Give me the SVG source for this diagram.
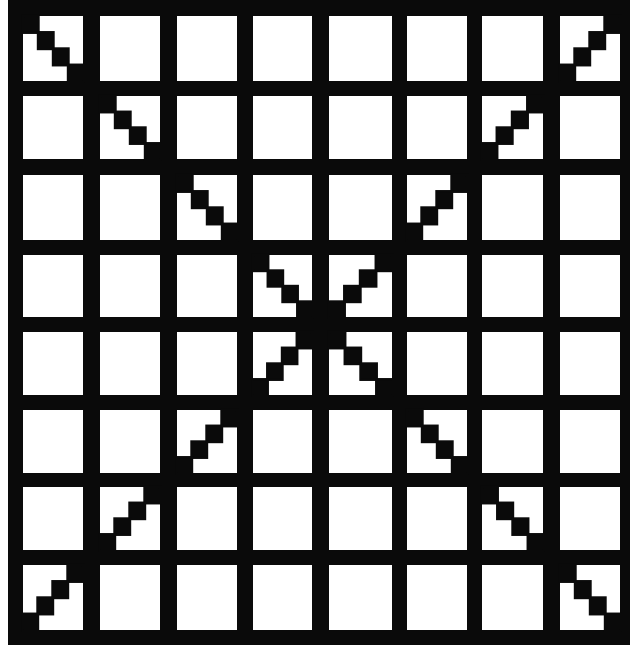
<svg xmlns="http://www.w3.org/2000/svg" width="630" height="647" viewBox="0 0 630 647">
<style>
.bg{fill:#ffffff}
.board{fill:#0a0a0a}
.cell{fill:#ffffff}
.sq{fill:#0a0a0a;stroke:#0a0a0a;stroke-width:2.4}
</style>
<rect class="bg" x="0" y="0" width="630" height="647"/>
<g id="board">
<rect class="board" x="8" y="0" width="622" height="645"/>
</g>
<g id="cells">
<!-- row 0 -->
<rect class="cell" x="23" y="16" width="60" height="65"/>
<rect class="cell" x="100" y="16" width="60" height="65"/>
<rect class="cell" x="177" y="16" width="60" height="65"/>
<rect class="cell" x="253" y="16" width="59" height="65"/>
<rect class="cell" x="329" y="16" width="63" height="65"/>
<rect class="cell" x="407" y="16" width="60" height="65"/>
<rect class="cell" x="482" y="16" width="61" height="65"/>
<rect class="cell" x="560" y="16" width="60" height="65"/>
<!-- row 1 -->
<rect class="cell" x="23" y="96" width="60" height="63"/>
<rect class="cell" x="100" y="96" width="60" height="63"/>
<rect class="cell" x="177" y="96" width="60" height="63"/>
<rect class="cell" x="253" y="96" width="59" height="63"/>
<rect class="cell" x="329" y="96" width="63" height="63"/>
<rect class="cell" x="407" y="96" width="60" height="63"/>
<rect class="cell" x="482" y="96" width="61" height="63"/>
<rect class="cell" x="560" y="96" width="60" height="63"/>
<!-- row 2 -->
<rect class="cell" x="23" y="175" width="60" height="65"/>
<rect class="cell" x="100" y="175" width="60" height="65"/>
<rect class="cell" x="177" y="175" width="60" height="65"/>
<rect class="cell" x="253" y="175" width="59" height="65"/>
<rect class="cell" x="329" y="175" width="63" height="65"/>
<rect class="cell" x="407" y="175" width="60" height="65"/>
<rect class="cell" x="482" y="175" width="61" height="65"/>
<rect class="cell" x="560" y="175" width="60" height="65"/>
<!-- row 3 -->
<rect class="cell" x="23" y="255" width="60" height="62"/>
<rect class="cell" x="100" y="255" width="60" height="62"/>
<rect class="cell" x="177" y="255" width="60" height="62"/>
<rect class="cell" x="253" y="255" width="59" height="62"/>
<rect class="cell" x="329" y="255" width="63" height="62"/>
<rect class="cell" x="407" y="255" width="60" height="62"/>
<rect class="cell" x="482" y="255" width="61" height="62"/>
<rect class="cell" x="560" y="255" width="60" height="62"/>
<!-- row 4 -->
<rect class="cell" x="23" y="332" width="60" height="63"/>
<rect class="cell" x="100" y="332" width="60" height="63"/>
<rect class="cell" x="177" y="332" width="60" height="63"/>
<rect class="cell" x="253" y="332" width="59" height="63"/>
<rect class="cell" x="329" y="332" width="63" height="63"/>
<rect class="cell" x="407" y="332" width="60" height="63"/>
<rect class="cell" x="482" y="332" width="61" height="63"/>
<rect class="cell" x="560" y="332" width="60" height="63"/>
<!-- row 5 -->
<rect class="cell" x="23" y="410" width="60" height="63"/>
<rect class="cell" x="100" y="410" width="60" height="63"/>
<rect class="cell" x="177" y="410" width="60" height="63"/>
<rect class="cell" x="253" y="410" width="59" height="63"/>
<rect class="cell" x="329" y="410" width="63" height="63"/>
<rect class="cell" x="407" y="410" width="60" height="63"/>
<rect class="cell" x="482" y="410" width="61" height="63"/>
<rect class="cell" x="560" y="410" width="60" height="63"/>
<!-- row 6 -->
<rect class="cell" x="23" y="487" width="60" height="63"/>
<rect class="cell" x="100" y="487" width="60" height="63"/>
<rect class="cell" x="177" y="487" width="60" height="63"/>
<rect class="cell" x="253" y="487" width="59" height="63"/>
<rect class="cell" x="329" y="487" width="63" height="63"/>
<rect class="cell" x="407" y="487" width="60" height="63"/>
<rect class="cell" x="482" y="487" width="61" height="63"/>
<rect class="cell" x="560" y="487" width="60" height="63"/>
<!-- row 7 -->
<rect class="cell" x="23" y="565" width="60" height="65"/>
<rect class="cell" x="100" y="565" width="60" height="65"/>
<rect class="cell" x="177" y="565" width="60" height="65"/>
<rect class="cell" x="253" y="565" width="59" height="65"/>
<rect class="cell" x="329" y="565" width="63" height="65"/>
<rect class="cell" x="407" y="565" width="60" height="65"/>
<rect class="cell" x="482" y="565" width="61" height="65"/>
<rect class="cell" x="560" y="565" width="60" height="65"/>
</g>
<g id="diagonal-main">
<rect class="sq" x="23" y="16" width="15.5" height="16.75"/>
<rect class="sq" x="38" y="32.25" width="15.5" height="16.75"/>
<rect class="sq" x="53" y="48.5" width="15.5" height="16.75"/>
<rect class="sq" x="68" y="64.75" width="15.5" height="16.75"/>

<rect class="sq" x="100" y="96" width="15.5" height="16.25"/>
<rect class="sq" x="115" y="111.75" width="15.5" height="16.25"/>
<rect class="sq" x="130" y="127.5" width="15.5" height="16.25"/>
<rect class="sq" x="145" y="143.25" width="15.5" height="16.25"/>

<rect class="sq" x="177" y="175" width="15.5" height="16.75"/>
<rect class="sq" x="192" y="191.25" width="15.5" height="16.75"/>
<rect class="sq" x="207" y="207.5" width="15.5" height="16.75"/>
<rect class="sq" x="222" y="223.75" width="15.5" height="16.75"/>

<rect class="sq" x="253" y="255" width="15.25" height="16"/>
<rect class="sq" x="267.75" y="270.5" width="15.25" height="16"/>
<rect class="sq" x="282.5" y="286" width="15.25" height="16"/>
<rect class="sq" x="297.25" y="301.5" width="15.25" height="16"/>

<rect class="sq" x="329" y="332" width="16.25" height="16.25"/>
<rect class="sq" x="344.75" y="347.75" width="16.25" height="16.25"/>
<rect class="sq" x="360.5" y="363.5" width="16.25" height="16.25"/>
<rect class="sq" x="376.25" y="379.25" width="16.25" height="16.25"/>

<rect class="sq" x="407" y="410" width="15.5" height="16.25"/>
<rect class="sq" x="422" y="425.75" width="15.5" height="16.25"/>
<rect class="sq" x="437" y="441.5" width="15.5" height="16.25"/>
<rect class="sq" x="452" y="457.25" width="15.5" height="16.25"/>

<rect class="sq" x="482" y="487" width="15.75" height="16.25"/>
<rect class="sq" x="497.25" y="502.75" width="15.75" height="16.25"/>
<rect class="sq" x="512.5" y="518.5" width="15.75" height="16.25"/>
<rect class="sq" x="527.75" y="534.25" width="15.75" height="16.25"/>

<rect class="sq" x="560" y="565" width="15.5" height="16.75"/>
<rect class="sq" x="575" y="581.25" width="15.5" height="16.75"/>
<rect class="sq" x="590" y="597.5" width="15.5" height="16.75"/>
<rect class="sq" x="605" y="613.75" width="15.5" height="16.75"/>
</g>
<g id="diagonal-anti">
<rect class="sq" x="604.5" y="16" width="15.5" height="16.75"/>
<rect class="sq" x="589.5" y="32.25" width="15.5" height="16.75"/>
<rect class="sq" x="574.5" y="48.5" width="15.5" height="16.75"/>
<rect class="sq" x="559.5" y="64.75" width="15.5" height="16.75"/>

<rect class="sq" x="527.25" y="96" width="15.75" height="16.25"/>
<rect class="sq" x="512" y="111.75" width="15.75" height="16.25"/>
<rect class="sq" x="496.75" y="127.5" width="15.75" height="16.25"/>
<rect class="sq" x="481.5" y="143.25" width="15.75" height="16.25"/>

<rect class="sq" x="451.5" y="175" width="15.5" height="16.75"/>
<rect class="sq" x="436.5" y="191.25" width="15.5" height="16.75"/>
<rect class="sq" x="421.5" y="207.5" width="15.5" height="16.75"/>
<rect class="sq" x="406.5" y="223.75" width="15.5" height="16.75"/>

<rect class="sq" x="375.75" y="255" width="16.25" height="16"/>
<rect class="sq" x="360" y="270.5" width="16.25" height="16"/>
<rect class="sq" x="344.25" y="286" width="16.25" height="16"/>
<rect class="sq" x="328.5" y="301.5" width="16.25" height="16"/>

<rect class="sq" x="296.75" y="332" width="15.25" height="16.25"/>
<rect class="sq" x="282" y="347.75" width="15.25" height="16.25"/>
<rect class="sq" x="267.25" y="363.5" width="15.25" height="16.25"/>
<rect class="sq" x="252.5" y="379.25" width="15.25" height="16.25"/>

<rect class="sq" x="221.5" y="410" width="15.5" height="16.25"/>
<rect class="sq" x="206.5" y="425.75" width="15.5" height="16.25"/>
<rect class="sq" x="191.5" y="441.5" width="15.5" height="16.25"/>
<rect class="sq" x="176.5" y="457.25" width="15.5" height="16.25"/>

<rect class="sq" x="144.5" y="487" width="15.5" height="16.25"/>
<rect class="sq" x="129.5" y="502.75" width="15.5" height="16.25"/>
<rect class="sq" x="114.5" y="518.5" width="15.5" height="16.25"/>
<rect class="sq" x="99.5" y="534.25" width="15.5" height="16.25"/>

<rect class="sq" x="67.5" y="565" width="15.5" height="16.75"/>
<rect class="sq" x="52.5" y="581.25" width="15.5" height="16.75"/>
<rect class="sq" x="37.5" y="597.5" width="15.5" height="16.75"/>
<rect class="sq" x="22.5" y="613.75" width="15.5" height="16.75"/>
</g>
</svg>
